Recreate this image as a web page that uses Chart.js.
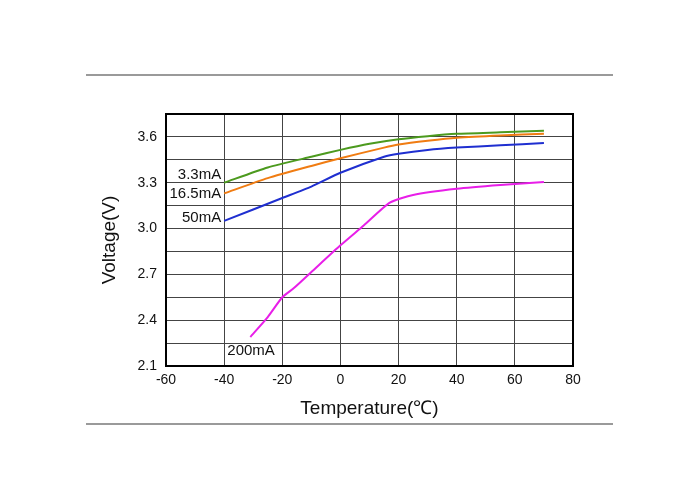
<!DOCTYPE html>
<html>
<head>
<meta charset="utf-8">
<script src="https://cdn.jsdelivr.net/npm/chart.js@4.4.1/dist/chart.umd.min.js"></script>
<style>
html,body{margin:0;padding:0;background:#fff;}
#wrap{width:700px;height:500px;position:relative;}
</style>
</head>
<body>
<div id="wrap"><canvas id="c" width="700" height="500"></canvas></div>
<script>
// ---- data ----
const seriesNames = ['3.3mA', '16.5mA', '50mA', '200mA'];
const temp33  = [-40, -25, -10, 0, 10, 20, 30, 40, 55, 70];
const volt33  = [3.30, 3.40, 3.47, 3.515, 3.555, 3.585, 3.605, 3.62, 3.63, 3.64];
const temp165 = [-40, -25, -10, 0, 15, 20, 30, 40, 55, 70];
const volt165 = [3.23, 3.33, 3.41, 3.46, 3.53, 3.55, 3.575, 3.595, 3.61, 3.62];
const temp50  = [-40, -20, -10, 0, 15, 20, 30, 40, 55, 70];
const volt50  = [3.05, 3.20, 3.275, 3.365, 3.47, 3.49, 3.515, 3.53, 3.545, 3.56];
const temp200 = [-31, -25, -20, -16, -10, 0, 8, 17, 25, 40, 55, 70];
const volt200 = [2.29, 2.42, 2.55, 2.61, 2.715, 2.89, 3.02, 3.17, 3.22, 3.26, 3.285, 3.305];
const xTicks = [-60, -40, -20, 0, 20, 40, 60, 80];
const yGrid  = [2.1, 2.25, 2.4, 2.55, 2.7, 2.85, 3.0, 3.15, 3.3, 3.45, 3.6, 3.75];
const yLabels = ['2.1', '', '2.4', '', '2.7', '', '3.0', '', '3.3', '', '3.6', ''];
const colors = ['#4c9a1e', '#f07c12', '#1f2fd0', '#e81ee8'];

const pts = (xs, ys) => xs.map((x, i) => ({x: x, y: ys[i]}));
const allT = [temp33, temp165, temp50, temp200];
const allV = [volt33, volt165, volt50, volt200];

// label offsets (pixels, relative to first point of each series)
const labelStyle = [
  {dx: -3, dy: -8, align: 'right'},
  {dx: -3, dy: 0, align: 'right'},
  {dx: -3, dy: -3, align: 'right'},
  {dx: -23, dy: 14, align: 'left'}
];

const seriesLabels = {
  id: 'seriesLabels',
  afterDatasetsDraw(chart) {
    const ctx = chart.ctx;
    const xs = chart.scales.x, ys = chart.scales.y;
    ctx.save();
    ctx.font = '15px "Liberation Sans", Arial, sans-serif';
    ctx.fillStyle = '#111';
    ctx.textBaseline = 'middle';
    seriesNames.forEach((n, i) => {
      const px = xs.getPixelForValue(allT[i][0]);
      const py = ys.getPixelForValue(allV[i][0]);
      const s = labelStyle[i];
      ctx.textAlign = s.align;
      ctx.fillText(n, px + s.dx, py + s.dy);
    });
    ctx.restore();
  }
};

const frame = {
  id: 'frame',
  beforeDraw(chart) {
    const ctx = chart.ctx;
    ctx.save();
    ctx.fillStyle = '#fff';
    ctx.fillRect(0, 0, chart.width, chart.height);
    ctx.strokeStyle = '#7a7a7a';
    ctx.lineWidth = 1.5;
    ctx.beginPath();
    ctx.moveTo(86, 75); ctx.lineTo(613, 75);
    ctx.moveTo(86, 424); ctx.lineTo(613, 424);
    ctx.stroke();
    ctx.restore();
  },
  afterDatasetsDraw(chart) {
    const a = chart.chartArea, ctx = chart.ctx;
    ctx.save();
    ctx.strokeStyle = '#000';
    ctx.lineWidth = 2;
    ctx.strokeRect(a.left, a.top, a.right - a.left, a.bottom - a.top);
    ctx.restore();
  }
};

new Chart(document.getElementById('c'), {
  type: 'line',
  data: {
    datasets: seriesNames.map((n, i) => ({
      label: n,
      data: pts(allT[i], allV[i]),
      borderColor: colors[i],
      borderWidth: 2,
      pointRadius: 0,
      tension: 0.2,
      fill: false
    }))
  },
  options: {
    responsive: false,
    animation: false,
    layout: {padding: {left: 94, right: 127, top: 114, bottom: 76}},
    plugins: {legend: {display: false}, tooltip: {enabled: false}},
    scales: {
      x: {
        type: 'linear', min: -60, max: 80,
        afterBuildTicks: s => { s.ticks = xTicks.map(v => ({value: v})); },
        afterFit: s => { s.height = 58; },
        grid: {color: '#444', lineWidth: 1, drawTicks: false},
        border: {display: false},
        ticks: {color: '#111', padding: 6, maxRotation: 0,
                font: {family: '"Liberation Sans", Arial, sans-serif', size: 14}},
        title: {display: true, text: 'Temperature(℃)', color: '#111', padding: {top: 4},
                font: {family: '"Liberation Sans", Arial, sans-serif', size: 19}}
      },
      y: {
        type: 'linear', min: 2.1, max: 3.75,
        afterBuildTicks: s => { s.ticks = yGrid.map(v => ({value: v})); },
        afterFit: s => { s.width = 72; },
        grid: {color: '#444', lineWidth: 1, drawTicks: false},
        border: {display: false},
        ticks: {color: '#111', padding: 9,
                callback: (v, i) => yLabels[i],
                font: {family: '"Liberation Sans", Arial, sans-serif', size: 14}},
        title: {display: true, text: 'Voltage(V)', color: '#111', padding: {bottom: 6},
                font: {family: '"Liberation Sans", Arial, sans-serif', size: 19}}
      }
    }
  },
  plugins: [frame, seriesLabels]
});
</script>
</body>
</html>
